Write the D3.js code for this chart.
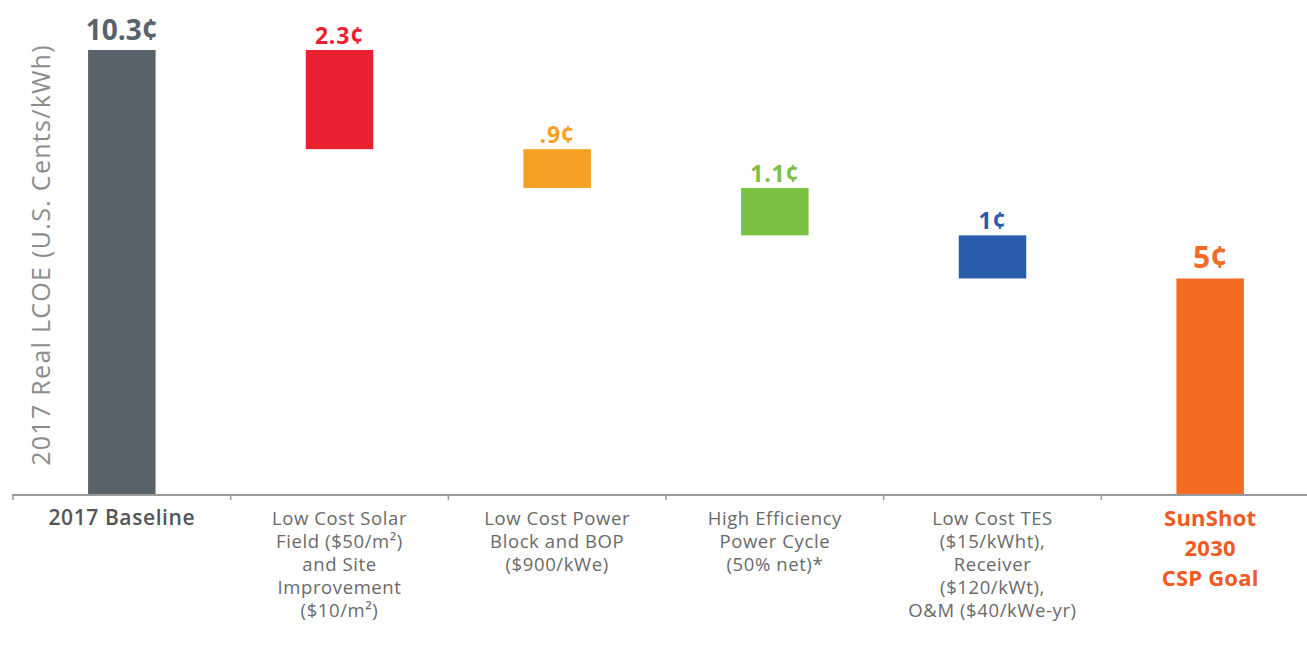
<!DOCTYPE html>
<html>
<head>
<meta charset="utf-8">
<script src="https://cdn.jsdelivr.net/npm/d3@7"></script>
<style>
  body { margin: 0; background: #fff; }
  text { font-family: "Open Sans", sans-serif; }
</style>
</head>
<body>
<script>
var width = 1307, height = 649;

// data
var categories = ["2017 Baseline", "Low Cost Solar Field", "Low Cost Power Block", "High Efficiency Power Cycle", "Low Cost TES", "SunShot 2030 CSP Goal"];
var values = [10.3, -2.3, -0.9, -1.1, -1.0, 5.0];
var valueLabels = ["10.3¢", "2.3¢", ".9¢", "1.1¢", "1¢", "5¢"];
var categoryLines = [
    ["2017 Baseline"],
    ["Low Cost Solar", "Field ($50/m²)", "and Site", "Improvement", "($10/m²)"],
    ["Low Cost Power", "Block and BOP", "($900/kWe)"],
    ["High Efficiency", "Power Cycle", "(50% net)*"],
    ["Low Cost TES", "($15/kWht),", "Receiver", "($120/kWt),", "O&M ($40/kWe-yr)"],
    ["SunShot", "2030", "CSP Goal"]
];
var colors = ["#57626b", "#e8202f", "#f7a023", "#7bc143", "#2b5bab", "#f36b23"];
var yLabel = "2017 Real LCOE (U.S. Cents/kWh)";

// waterfall steps
var steps = [];
var running = 0;
values.forEach(function(v, i) {
    if (i == 0 || i == values.length - 1) {
        steps.push({start: 0, end: v});
        running = v;
    } else {
        steps.push({start: running, end: running + v});
        running = running + v;
    }
});

var baseY = 494;

var x = d3.scaleBand().domain(categories).range([13, 1319]).paddingInner(0.69).paddingOuter(0.345);
var y = d3.scaleLinear().domain([0, 10.3]).range([baseY, 50]);

var svg = d3.select("body").append("svg")
    .attr("width", width)
    .attr("height", height);

// bars
svg.selectAll("rect.bar")
    .data(steps)
    .enter().append("rect")
    .attr("class", "bar")
    .attr("x", function(d, i) { return x(categories[i]); })
    .attr("width", x.bandwidth())
    .attr("y", function(d) { return y(Math.max(d.start, d.end)); })
    .attr("height", function(d) { return Math.abs(y(d.start) - y(d.end)); })
    .style("fill", function(d, i) { return colors[i]; });

// value labels
svg.selectAll("text.val")
    .data(steps)
    .enter().append("text")
    .attr("class", "val")
    .attr("x", function(d, i) { return x(categories[i]) + x.bandwidth() / 2; })
    .attr("y", function(d, i) {
        var big = (i == 0 || i == steps.length - 1);
        return y(Math.max(d.start, d.end)) - (big ? 10 : 6);
    })
    .attr("text-anchor", "middle")
    .style("font-weight", "700")
    .style("font-size", function(d, i) { return i == 0 ? "28px" : (i == steps.length - 1 ? "30px" : "23px"); })
    .style("letter-spacing", function(d, i) { return (i == 0 || i == steps.length - 1) ? "0px" : "0.8px"; })
    .style("fill", function(d, i) { return colors[i]; })
    .text(function(d, i) { return valueLabels[i]; });

// axis line and ticks at band boundaries
svg.append("line")
    .attr("x1", 12).attr("x2", width)
    .attr("y1", baseY + 1).attr("y2", baseY + 1)
    .style("stroke", "#9a9a9a")
    .style("stroke-width", 2);

var step = x.step();
var r0 = x.range()[0];
svg.selectAll("line.tick")
    .data(categories)
    .enter().append("line")
    .attr("class", "tick")
    .attr("x1", function(d, i) { return r0 + i * step; })
    .attr("x2", function(d, i) { return r0 + i * step; })
    .attr("y1", baseY + 1).attr("y2", baseY + 6)
    .style("stroke", "#9a9a9a")
    .style("stroke-width", 1.5);

// category labels
categoryLines.forEach(function(lines, i) {
    var cx = x(categories[i]) + x.bandwidth() / 2;
    var first = i == 0, last = i == categoryLines.length - 1;
    var t = svg.append("text")
        .attr("text-anchor", "middle")
        .attr("x", cx)
        .attr("y", first ? 525 : (last ? 526 : 525))
        .style("font-size", first ? "21px" : (last ? "22px" : "18.5px"))
        .style("letter-spacing", first ? "0.6px" : (last ? "0.2px" : "0.6px"))
        .style("font-weight", first ? "600" : (last ? "700" : "400"))
        .style("fill", first ? "#555" : (last ? "#f05a22" : "#6a6a6a"));
    lines.forEach(function(l, j) {
        t.append("tspan")
            .attr("x", cx)
            .attr("dy", j == 0 ? 0 : (last ? 30 : 23))
            .text(l);
    });
});

// y axis title
svg.append("text")
    .attr("transform", "translate(50,255) rotate(-90)")
    .attr("text-anchor", "middle")
    .style("font-size", "25px")
    .style("letter-spacing", "1.3px")
    .style("fill", "#8c8c8c")
    .text(yLabel);
</script>
</body>
</html>
